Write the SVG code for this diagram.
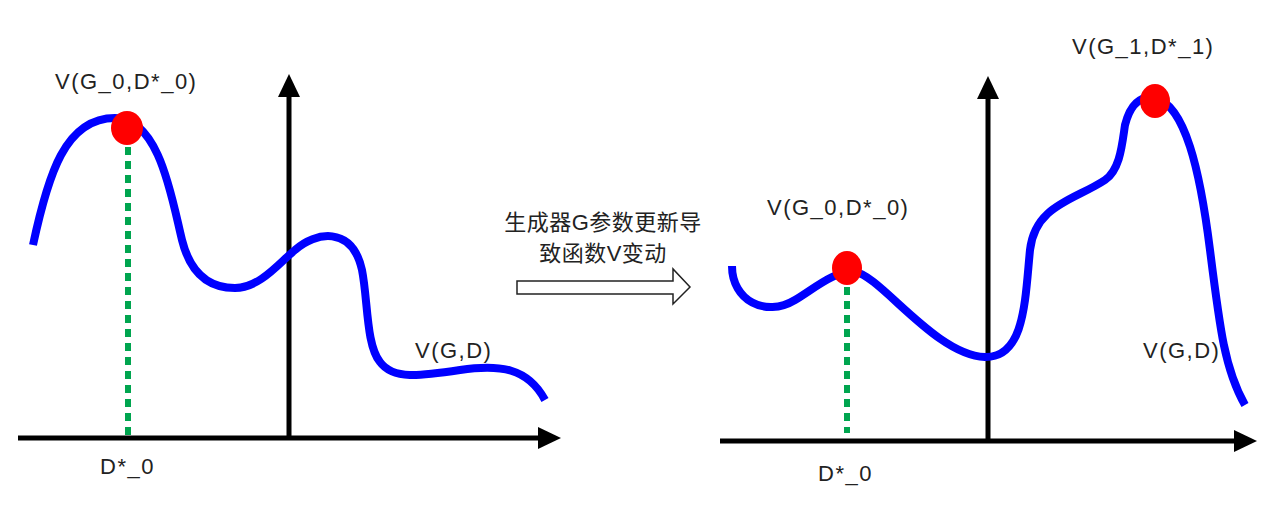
<svg xmlns="http://www.w3.org/2000/svg" width="1272" height="516" viewBox="0 0 1272 516">
<style>
.axis{stroke:#000;stroke-width:5;fill:none}
.curve{stroke:#0000ff;stroke-width:8;fill:none;stroke-linecap:butt}
.drop{stroke:#00a54f;stroke-width:6;stroke-dasharray:8 6;fill:none}
.dot{fill:#ff0000}
.lbl{font-family:"Liberation Sans",Arial,sans-serif;font-size:22px;letter-spacing:1.5px;fill:#222}
.cn{font-family:"Liberation Sans","Noto Sans CJK SC",sans-serif;font-size:22px;letter-spacing:0.5px;fill:#222}
</style>
<g id="left-panel">
<g id="left-axes">
<line class="axis" x1="18" y1="438" x2="540" y2="438"/>
<polygon points="538,427 561,438 538,449" fill="#000"/>
<line class="axis" x1="289" y1="438" x2="289" y2="95"/>
<polygon points="278,97 289,74 300,97" fill="#000"/>
</g>
<g id="left-curve">
<path class="curve" d="M33,245 C48,175 65,118 115,118 C160,118 172,200 182,240 C192,280 215,288 235,288 C260,288 280,262 295,250 C315,232 352,225 362,270 C368,300 366,345 380,362 C393,380 420,376 460,370 C500,364 528,368 545,400"/>
</g>
<g id="left-max">
<line class="drop" x1="128" y1="147" x2="128" y2="437"/>
<ellipse class="dot" cx="127" cy="128" rx="16" ry="17"/>
</g>
<text class="lbl" x="55" y="89">V(G_0,D*_0)</text>
<text class="lbl" x="415" y="358">V(G,D)</text>
<text class="lbl" x="100" y="474">D*_0</text>
</g>
<g id="transition">
<text class="cn" x="603" y="230" text-anchor="middle">生成器G参数更新导</text>
<text class="cn" x="603" y="261" text-anchor="middle">致函数V变动</text>
<path d="M517,281 L673,281 L673,269 L690,287 L673,304 L673,294 L517,294 Z" fill="#fff" stroke="#222" stroke-width="1.5"/>
</g>
<g id="right-panel">
<g id="right-axes">
<line class="axis" x1="720" y1="441" x2="1236" y2="441"/>
<polygon points="1234,430 1257,441 1234,452" fill="#000"/>
<line class="axis" x1="988" y1="441" x2="988" y2="98"/>
<polygon points="977,99 988,76 999,99" fill="#000"/>
</g>
<g id="right-curve">
<path class="curve" d="M732,266 C732,300 765,318 795,300 C815,288 835,270 855,272 C880,275 935,355 985,357 C1025,358 1025,300 1030,250 C1035,205 1075,200 1105,180 C1120,170 1122,145 1125,125 C1130,105 1140,95 1155,98 C1185,105 1200,170 1210,250 C1220,330 1225,370 1245,405"/>
</g>
<g id="right-max0">
<line class="drop" x1="847" y1="287" x2="847" y2="433"/>
<ellipse class="dot" cx="847" cy="268" rx="15" ry="17"/>
</g>
<g id="right-max1">
<ellipse class="dot" cx="1155" cy="101" rx="15" ry="17"/>
</g>
<text class="lbl" x="1072" y="54">V(G_1,D*_1)</text>
<text class="lbl" x="767" y="215">V(G_0,D*_0)</text>
<text class="lbl" x="1143" y="358">V(G,D)</text>
<text class="lbl" x="818" y="481">D*_0</text>
</g>
</svg>
